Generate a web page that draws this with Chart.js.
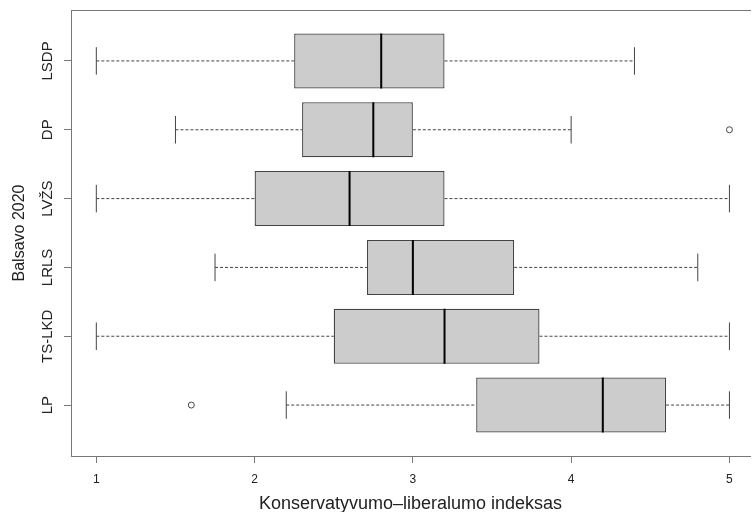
<!DOCTYPE html>
<html>
<head>
<meta charset="utf-8">
<script src="https://cdn.jsdelivr.net/npm/chart.js@4"></script>
<style>
  html, body { margin: 0; padding: 0; background: #fff; }
  #wrap { width: 755px; height: 512px; }
</style>
</head>
<body>
<div id="wrap"><canvas id="chart"></canvas></div>
<script>
  // groups from bottom (1) to top (6)
  const parties = ["LP", "TS-LKD", "LRLS", "LVŽS", "DP", "LSDP"];
  const whiskerLow = [2.2, 1.0, 1.75, 1.0, 1.5, 1.0];
  const q1 = [3.4, 2.5, 2.71, 2.0, 2.3, 2.25];
  const medians = [4.2, 3.2, 3.0, 2.6, 2.75, 2.8];
  const q3 = [4.6, 3.8, 3.64, 3.2, 3.0, 3.2];
  const whiskerHigh = [5.0, 5.0, 4.8, 5.0, 4.0, 4.4];
  const outliers = [[1.6], [], [], [], [5.0], []];
  const xTicks = [1, 2, 3, 4, 5];

  const FONT = "'Liberation Sans', Arial, sans-serif";
  const axisColor = "#777";
  const lineColor = "#444";

  var whiskerPts = [], capPts = [], medianPts = [], outlierPts = [];
  parties.forEach((p, i) => {
    var y = i + 1;
    whiskerPts.push({ x: whiskerLow[i], y: y }, { x: q1[i], y: y }, { x: q1[i], y: null });
    whiskerPts.push({ x: q3[i], y: y }, { x: whiskerHigh[i], y: y }, { x: whiskerHigh[i], y: null });
    [whiskerLow[i], whiskerHigh[i]].forEach((v) => {
      capPts.push({ x: v, y: y - 0.2 }, { x: v, y: y + 0.2 }, { x: v, y: null });
    });
    medianPts.push({ x: medians[i], y: y - 0.4 }, { x: medians[i], y: y + 0.4 }, { x: medians[i], y: null });
    outliers[i].forEach((v) => outlierPts.push({ x: v, y: y }));
  });

  // y tick labels drawn rotated, like R's axis()
  const yLabelPlugin = {
    id: "yLabels",
    afterDraw(chart) {
      var ctx = chart.ctx, ys = chart.scales.y;
      ctx.save();
      ctx.font = "15px " + FONT;
      ctx.fillStyle = "#222";
      ctx.textAlign = "center";
      ctx.textBaseline = "middle";
      parties.forEach((p, i) => {
        ctx.save();
        ctx.translate(48, ys.getPixelForValue(i + 1));
        ctx.rotate(-Math.PI / 2);
        ctx.fillText(p, 0, 0);
        ctx.restore();
      });
      ctx.restore();
    },
  };

  new Chart(document.getElementById("chart"), {
    data: {
      datasets: [
        {
          type: "line",
          data: medianPts,
          borderColor: "#000",
          borderWidth: 2,
          pointRadius: 0,
          spanGaps: false,
        },
        {
          type: "scatter",
          data: outlierPts,
          pointStyle: "circle",
          pointRadius: 3,
          borderColor: lineColor,
          borderWidth: 1,
          backgroundColor: "rgba(0,0,0,0)",
        },
        {
          type: "line",
          data: capPts,
          borderColor: lineColor,
          borderWidth: 1,
          pointRadius: 0,
          spanGaps: false,
        },
        {
          type: "line",
          data: whiskerPts,
          borderColor: lineColor,
          borderWidth: 1,
          borderDash: [3, 2],
          pointRadius: 0,
          spanGaps: false,
        },
        {
          type: "bar",
          indexAxis: "y",
          data: parties.map((p, i) => ({ x: [q1[i], q3[i]], y: i + 1 })),
          backgroundColor: "#cccccc",
          borderColor: lineColor,
          borderWidth: 1.3,
          borderSkipped: false,
          barPercentage: 0.8,
          categoryPercentage: 1,
        },
      ],
    },
    options: {
      responsive: true,
      maintainAspectRatio: false,
      animation: false,
      layout: { padding: { top: 10, right: 0, left: 0, bottom: 0 } },
      plugins: { legend: { display: false }, tooltip: { enabled: false } },
      scales: {
        x: {
          type: "linear",
          position: "bottom",
          min: 0.84,
          max: 5.13,
          afterBuildTicks: (s) => { s.ticks = xTicks.map((v) => ({ value: v })); },
          afterFit: (s) => { s.height = 56; },
          ticks: { font: { size: 12, family: FONT }, color: "#222", padding: 9, maxRotation: 0 },
          grid: { display: true, drawOnChartArea: false, tickLength: 7, color: axisColor },
          border: { display: true, color: axisColor },
          title: {
            display: true,
            text: "Konservatyvumo–liberalumo indeksas",
            font: { size: 18, family: FONT },
            color: "#222",
            padding: { top: 0, bottom: -3 },
          },
        },
        xTop: {
          type: "linear",
          position: "top",
          min: 0.84,
          max: 5.13,
          afterFit: (s) => { s.height = 0; },
          ticks: { display: false },
          grid: { display: false, drawTicks: false },
          border: { display: true, color: axisColor },
        },
        y: {
          type: "linear",
          min: 0.26,
          max: 6.74,
          offset: false,
          afterBuildTicks: (s) => { s.ticks = parties.map((p, i) => ({ value: i + 1 })); },
          afterFit: (s) => { s.width = 71; },
          ticks: { display: false },
          grid: { display: true, offset: false, drawOnChartArea: false, tickLength: 7, color: axisColor },
          border: { display: true, color: axisColor },
          title: {
            display: true,
            text: "Balsavo 2020",
            font: { size: 16, family: FONT },
            color: "#222",
            padding: { top: 10, bottom: 0 },
          },
        },
      },
    },
    plugins: [yLabelPlugin],
  });
</script>
</body>
</html>
